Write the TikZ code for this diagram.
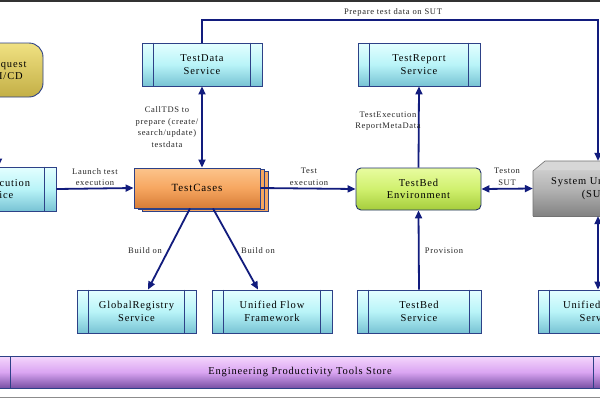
\documentclass[tikz,border=0pt]{standalone}
\usepackage{fontspec}
\setmainfont{Liberation Serif}[LetterSpace=8]
\usetikzlibrary{arrows.meta}
\definecolor{navy}{RGB}{18,28,125}
\definecolor{boxline}{RGB}{45,65,135}
\definecolor{cyanT}{RGB}{228,255,255}
\definecolor{cyanM}{RGB}{185,244,248}
\definecolor{cyanB}{RGB}{120,195,212}
\definecolor{orT}{RGB}{252,196,140}
\definecolor{orM}{RGB}{246,166,96}
\definecolor{orB}{RGB}{215,125,55}
\definecolor{grT}{RGB}{232,252,160}
\definecolor{grM}{RGB}{208,240,110}
\definecolor{grB}{RGB}{165,205,60}
\definecolor{gyT}{RGB}{215,215,215}
\definecolor{gyM}{RGB}{180,180,180}
\definecolor{gyB}{RGB}{130,130,130}
\definecolor{puT}{RGB}{245,215,252}
\definecolor{puM}{RGB}{218,165,242}
\definecolor{puB}{RGB}{120,80,165}
\definecolor{yeT}{RGB}{240,225,130}
\definecolor{yeB}{RGB}{195,175,70}
\newcommand\nodefont{\fontsize{10.5}{12.5}\selectfont}
\newcommand\lblfont{\fontsize{8.5}{11.5}\selectfont}
\newcommand\svcdiv[1]{\draw[boxline,line width=0.8pt] ([xshift=12pt]#1.north west) -- ([xshift=12pt]#1.south west) ([xshift=-12pt]#1.north east) -- ([xshift=-12pt]#1.south east);}
\begin{document}
\begin{tikzpicture}[x=1pt,y=-1pt,
  svc/.style={draw=boxline,line width=0.9pt,top color=cyanT,bottom color=cyanB,middle color=cyanM,minimum width=120pt,minimum height=43pt,inner sep=0pt,align=center,font=\nodefont},
  arr/.style={draw=navy,line width=1.8pt,-{Triangle[length=8pt,width=7pt]}},
  darr/.style={draw=navy,line width=1.8pt,{Triangle[length=8pt,width=7pt]}-{Triangle[length=8pt,width=7pt]}},
  lbl/.style={font=\lblfont,align=center,inner sep=0pt,text=black!85}]
\useasboundingbox (0,0) rectangle (600,400);
\clip (0,0) rectangle (600,400);
\fill[white] (0,0) rectangle (600,400);
\draw[black!80,line width=2pt] (0,0.5) -- (600,0.5);
\draw[black!45,line width=1pt] (0,397.5) -- (600,397.5);

% Request node (partly off page)
\node[draw=boxline,line width=0.9pt,rounded corners=14pt,top color=yeT,bottom color=yeB,minimum width=72pt,minimum height=54pt,inner sep=0pt,align=center,font=\nodefont] (req) at (7,70) {Request\\CI/CD};

% services
\node[svc,minimum width=122pt,minimum height=44pt] (exe) at (-5,189) {TestExecution\\Service};
\svcdiv{exe}
\node[svc] (tds) at (202,64.5) {TestData\\Service};
\svcdiv{tds}
\node[svc,minimum width=122pt] (trs) at (419,64.5) {TestReport\\Service};
\svcdiv{trs}
\node[svc,minimum width=119pt] (grs) at (136.5,311.5) {GlobalRegistry\\Service};
\svcdiv{grs}
\node[svc] (ufw) at (272,311.5) {Unified Flow\\Framework};
\svcdiv{ufw}
\node[svc,minimum width=124pt] (tbs) at (419,311.5) {TestBed\\Service};
\svcdiv{tbs}
\node[svc] (uas) at (598,311.5) {Unified Agent\\Service};
\svcdiv{uas}

% TestCases stacked
\foreach \d/\e in {8/3,4/1.5}{
  \draw[boxline,line width=0.8pt,fill=orM] (134+\d,168+\e) rectangle (260+\d,208+\e);
}
\node[draw=boxline,line width=0.9pt,top color=orT,bottom color=orB,middle color=orM,minimum width=126pt,minimum height=40pt,inner sep=0pt,font=\fontsize{11}{13}\selectfont] (tc) at (197,188) {TestCases};

% TestBed Environment
\node[draw=boxline!80!black,line width=0.9pt,rounded corners=5pt,top color=grT,bottom color=grB,middle color=grM,minimum width=125pt,minimum height=42pt,inner sep=0pt,align=center,font=\nodefont] (te) at (418.5,189) {TestBed\\Environment};

% SUT box with chamfer
\shade[top color=gyT,bottom color=gyB,middle color=gyM] (533,216) -- (533,171) -- (545,161) -- (640,161) -- (640,216) -- cycle;
\fill[gyT] (533,171) -- (545,161) -- (640,161) -- (640,170) -- (536,170) -- cycle;
\draw[black!55,line width=0.6pt] (533,216) -- (533,171) -- (545,161) -- (640,161);
\draw[black!55,line width=0.6pt] (533,216) -- (640,216);
\node[minimum width=128pt,minimum height=55pt,inner sep=0pt,align=center,font=\nodefont] (sut) at (597,188.5) {System Under Test\\(SUT)};

% bottom store bar
\node[draw=boxline,line width=0.9pt,top color=puT,bottom color=puB,middle color=puM,minimum width=606pt,minimum height=32pt,inner sep=0pt,font=\nodefont] (store) at (300,372) {Engineering Productivity Tools Store};
\draw[boxline,line width=0.9pt] (10,356) -- (10,388) (593,356) -- (593,388);

% connectors
\coordinate (tr) at (598,20);
\draw[arr] (req.south -| -1.5,0) -- (exe.north -| -1.5,0);
\draw[arr] (exe.east) -- (tc.west);
\draw[darr] ([xshift=5pt]tc.north) -- (tds.south);
\draw[arr] (tds.north) |- (tr) -- (tr |- sut.north);
\draw[arr] (tc.east) -- (te.west);
\draw[darr] (te.east) -- (sut.west);
\draw[arr] (te.north) -- (trs.south);
\draw[arr] (tbs.north) -- (te.south);
\draw[darr] (tr |- sut.south) -- (tr |- uas.north);
\draw[arr] ([xshift=-7pt]tc.south) -- ([xshift=11.5pt]grs.north);
\draw[arr] ([xshift=16pt]tc.south) -- ([xshift=-14pt]ufw.north);

% labels
\node[lbl] (l1) at (393,12) {Prepare test data on SUT};
\node[lbl] (l2) at (167,127) {CallTDS to\\prepare (create/\\search/update)\\testdata};
\node[lbl] (l3) at (95,177) {Launch test\\execution};
\node[lbl] (l4) at (309,177) {Test\\execution};
\node[lbl] (l5) at (507,177) {Teston\\SUT};
\node[lbl] (l6) at (388,121) {TestExecution\\ReportMetaData};
\node[lbl] (l7) at (145,251) {Build on};
\node[lbl] (l8) at (258,251) {Build on};
\node[lbl] (l9) at (444,251) {Provision};
\end{tikzpicture}
\end{document}
